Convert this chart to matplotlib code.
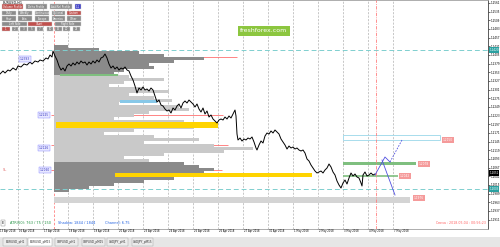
import numpy as np
import matplotlib.pyplot as plt
from matplotlib.patches import Rectangle

# EURUSD H1, x in bars, price on the right axis
bar_x = [0, 3, 5, 8, 10, 13, 16, 18, 21, 24, 27, 30, 32, 35, 38, 40, 43, 46, 48, 50,
         52, 53, 55, 57, 59, 61, 63, 65, 67, 69, 71, 73, 75, 77, 79, 81, 83, 85, 87, 89,
         91, 93, 95, 97, 99, 101, 103, 105, 107, 109, 111, 113, 115, 117, 119, 121, 123, 125, 127, 129,
         131, 133, 135, 137, 139, 141, 143, 145, 147, 149, 151, 153, 155, 157, 159, 161, 163, 165, 167, 169,
         171, 173, 175, 177, 179, 181, 183, 185, 187, 189, 191, 193, 195, 197, 199, 201, 203, 205, 207, 209,
         211, 213, 215, 217, 219, 221, 223, 225, 227, 229, 231, 233, 235, 236, 237, 238, 240, 242, 244, 246,
         248, 250, 252, 254, 256, 257, 259, 261, 263, 265, 267, 269, 271, 273, 275, 277, 279, 281, 283, 285,
         287, 289, 291, 293, 295, 297, 299, 301, 303, 305, 307, 309, 311, 313, 315, 317, 319, 321, 323, 325,
         327, 329, 331, 333, 335, 337, 339, 341, 343, 345, 347, 349, 351, 353, 355, 357, 359, 361, 362, 363,
         365, 367, 369, 371, 373, 375]
close = [1.2348, 1.2357, 1.2351, 1.2360, 1.2357, 1.2366, 1.2360, 1.2372, 1.2369, 1.2378, 1.2375, 1.2384, 1.2378, 1.2387, 1.2384, 1.2390, 1.2387, 1.2396, 1.2393, 1.2405,
         1.2399, 1.2417, 1.2402, 1.2390, 1.2372, 1.2360, 1.2366, 1.2357, 1.2372, 1.2378, 1.2372, 1.2381, 1.2375, 1.2384, 1.2378, 1.2387, 1.2381, 1.2384, 1.2375, 1.2384,
         1.2378, 1.2387, 1.2381, 1.2390, 1.2384, 1.2396, 1.2399, 1.2408, 1.2396, 1.2378, 1.2366, 1.2372, 1.2363, 1.2369, 1.2360, 1.2366, 1.2363, 1.2369, 1.2360, 1.2357,
         1.2342, 1.2330, 1.2312, 1.2291, 1.2306, 1.2300, 1.2309, 1.2300, 1.2303, 1.2297, 1.2306, 1.2300, 1.2282, 1.2264, 1.2270, 1.2255, 1.2252, 1.2243, 1.2237, 1.2240,
         1.2231, 1.2246, 1.2240, 1.2252, 1.2258, 1.2246, 1.2261, 1.2267, 1.2261, 1.2270, 1.2264, 1.2258, 1.2249, 1.2258, 1.2243, 1.2234, 1.2246, 1.2228, 1.2237, 1.2219,
         1.2225, 1.2213, 1.2207, 1.2201, 1.2210, 1.2213, 1.2210, 1.2219, 1.2213, 1.2222, 1.2216, 1.2228, 1.2240, 1.2222, 1.2168, 1.2150, 1.2156, 1.2147, 1.2153, 1.2150,
         1.2156, 1.2153, 1.2159, 1.2144, 1.2126, 1.2120, 1.2135, 1.2147, 1.2141, 1.2162, 1.2171, 1.2168, 1.2177, 1.2171, 1.2180, 1.2174, 1.2168, 1.2153, 1.2144, 1.2135,
         1.2123, 1.2132, 1.2126, 1.2129, 1.2123, 1.2126, 1.2120, 1.2117, 1.2120, 1.2111, 1.2093, 1.2087, 1.2075, 1.2066, 1.2057, 1.2051, 1.2054, 1.2057, 1.2051, 1.2060,
         1.2066, 1.2078, 1.2069, 1.2054, 1.2045, 1.2027, 1.2015, 1.2006, 1.2021, 1.2030, 1.2018, 1.2036, 1.2051, 1.2042, 1.2048, 1.2039, 1.2036, 1.2021, 1.2012, 1.2045,
         1.2054, 1.2042, 1.2045, 1.2051, 1.2045, 1.2048]

# volume profile (bars long), bins of 9 pips from the top level down
profile_top = 1.2435
profile_step = 0.0009
profile_start = 54
profile_vol = [14, 45, 85, 110, 150, 120, 95, 100, 70, 60,
               75, 110, 70, 55, 90, 115, 75, 100, 118, 65,
               125, 135, 95, 80, 60, 130, 164, 140, 80, 50,
               100, 145, 90, 160, 199, 170, 110, 70, 95,
               130, 145, 160, 150, 140, 120, 90, 60, 35, 15]
dark_top = 10      # first bins drawn dark
dark_bottom = 39   # bins from here drawn dark

# POC bars: (price low, price high, start bar, end bar)
poc_bars = [(1.2186, 1.2204, 56, 218), (1.2039, 1.2051, 115, 312)]

# levels and zones
teal_levels = [1.2420, 1.2003]
current_price = 1.2051
red_lines = [(1.2399, 54, 237), (1.2225, 51, 223), (1.2135, 51, 228), (1.2060, 51, 222)]
blue_tags = [(1.2393, 20, "1.2393"), (1.2225, 39, "1.2225"), (1.2126, 39, "1.2126"), (1.2060, 40, "1.2060")]
gray_band = (1.1961, 1.1979, 54, 410)
green_top = (1.2342, 1.2348, 60, 118)
blue_zone = (1.2261, 1.2270, 120, 157)
outline_zone = (1.2150, 1.2165, 343, 440)
green_zone = (1.2075, 1.2084, 343, 416)
green_line = (1.2042, 343, 398)
zone_tags = [(1.2150, 443, "1.2150"), (1.2078, 419, "1.2078"), (1.2042, 400, "1.2042"), (1.1976, 414, "1.1976")]
proj_x = [375, 385, 390]
proj_y = [1.2045, 1.2099, 1.2084]
proj_dash_x = [390, 402]
proj_dash_y = [1.2084, 1.2150]
proj_down_x = [382, 395]
proj_down_y = [1.2090, 1.1985]
now_bar = 376
anchor_bar = 54

grid_bars = [18 + 25 * k for k in range(16)]
date_labels = ["16 Apr 2018", "17 Apr 2018", "18 Apr 2018", "19 Apr 2018", "20 Apr 2018",
               "23 Apr 2018", "24 Apr 2018", "25 Apr 2018", "26 Apr 2018", "27 Apr 2018",
               "30 Apr 2018", "1 May 2018", "2 May 2018", "3 May 2018", "4 May 2018", "7 May 2018"]

price_ticks = [round(1.2561 - 0.0026 * k, 4) for k in range(26)]

fig = plt.figure(figsize=(5, 2.47), dpi=100)
ax = fig.add_axes([0, 1 - 229 / 247, 488 / 500, 229 / 247])
ax.set_xlim(0, 488)
ax.set_ylim(1.1883, 1.2570)

for g in grid_bars:
    ax.axvline(g, color="#b0b0b0", lw=0.5, ls=(0, (3, 2)), zorder=0)

ax.axvline(anchor_bar, color="#ff8080", lw=0.6, ls=(0, (3, 2)), zorder=0.5)

for lvl, x0, x1 in red_lines:
    ax.hlines(lvl, x0, x1, color="#ff7070", lw=0.6, zorder=1)

# volume profile
centers = profile_top - profile_step / 2 - profile_step * np.arange(len(profile_vol))
colors = ["#8a8a8a" if (i < dark_top or i >= dark_bottom) else "#c9c9c9" for i in range(len(profile_vol))]
ax.barh(centers, profile_vol, left=profile_start, height=profile_step * 0.92,
        color=colors, lw=0, zorder=2)

gl, gh, gx0, gx1 = gray_band
ax.barh((gl + gh) / 2, gx1 - gx0, left=gx0, height=gh - gl, color="#d4d4d4", lw=0, zorder=2)

for lo, hi, x0, x1 in poc_bars:
    ax.barh((lo + hi) / 2, x1 - x0, left=x0, height=hi - lo, color="#ffd400", lw=0, zorder=3)

lo, hi, x0, x1 = green_top
ax.barh((lo + hi) / 2, x1 - x0, left=x0, height=hi - lo, color="#7fbf7f", lw=0, zorder=3)
lo, hi, x0, x1 = blue_zone
ax.barh((lo + hi) / 2, x1 - x0, left=x0, height=hi - lo, color="#87c8e8", lw=0, zorder=3)
lo, hi, x0, x1 = outline_zone
ax.add_patch(Rectangle((x0, lo), x1 - x0, hi - lo, fill=False, ec="#a8dcec", lw=0.7, zorder=3))
lo, hi, x0, x1 = green_zone
ax.barh((lo + hi) / 2, x1 - x0, left=x0, height=hi - lo, color="#7fbf7f", lw=0, zorder=3)
lvl, x0, x1 = green_line
ax.hlines(lvl, x0, x1, color="#7fbf7f", lw=1.2, zorder=3)

for lvl in teal_levels:
    ax.axhline(lvl, color="#7fcfcf", lw=0.7, ls=(0, (5, 3)), zorder=4)

ax.plot(bar_x, close, color="black", lw=0.7, zorder=5)

ax.plot(proj_x, proj_y, color="#5050e0", lw=0.6, zorder=5)
ax.plot(proj_dash_x, proj_dash_y, color="#5050e0", lw=0.6, ls=(0, (2, 1.5)), zorder=5)
ax.plot(proj_down_x, proj_down_y, color="#5050e0", lw=0.6, zorder=5)

ax.axvline(now_bar, color="#ff8080", lw=0.6, ls=(0, (4, 1.5, 1, 1.5)), zorder=4)

for lvl, x, txt in blue_tags:
    ax.text(x, lvl, txt, fontsize=2.1, color="#3030c0", va="center", ha="left", zorder=6,
            bbox=dict(boxstyle="square,pad=0.25", fc="#e8e8ff", ec="#8080ff", lw=0.3))
for lvl, x, txt in zone_tags:
    ax.text(x, lvl, txt, fontsize=2.1, color="white", va="center", ha="left", zorder=6,
            bbox=dict(boxstyle="square,pad=0.3", fc="#f59a9a", ec="none"))
ax.text(3, 1.2060, "SL", fontsize=2.5, color="#e06060", va="center", zorder=6)

# right price axis
ax.yaxis.tick_right()
ax.set_yticks(price_ticks)
ax.set_yticklabels([f"{p:.4f}" for p in price_ticks], fontsize=2.0)
ax.tick_params(axis="y", length=1.2, width=0.4, pad=0.6)
ax.set_xticks([])
ax.spines["left"].set_visible(False)
ax.spines["top"].set_color("#a0a0a0")
ax.spines["bottom"].set_color("#a0a0a0")
ax.spines["right"].set_color("#404040")
for s in ax.spines.values():
    s.set_linewidth(0.6)

for lvl in teal_levels:
    ax.annotate(f"{lvl:.4f}", xy=(1.0, lvl), xycoords=("axes fraction", "data"), xytext=(1.0, 0),
                textcoords="offset points", fontsize=2.0, color="white", va="center",
                bbox=dict(boxstyle="square,pad=0.2", fc="#2aa0a0", ec="none"), zorder=7, annotation_clip=False)
ax.annotate(f"{current_price:.4f}", xy=(1.0, current_price), xycoords=("axes fraction", "data"), xytext=(1.0, 0),
            textcoords="offset points", fontsize=2.0, color="white", va="center",
            bbox=dict(boxstyle="square,pad=0.2", fc="black", ec="none"), zorder=7, annotation_clip=False)

# date labels under the axis
ax.text(0.5, 1.1883, "13 Apr 2018", fontsize=1.8, va="top", ha="left", clip_on=False)
for g, lab in zip(grid_bars, date_labels):
    ax.text(g + 1, 1.1883, lab, fontsize=1.8, va="top", ha="left", color="black", clip_on=False)
    ax.vlines(g, 1.1883, 1.1880, color="black", lw=0.3, clip_on=False)

# info line at the bottom of the chart
ax.text(10, 1.1902, "ATR(60): 763 / 75 / 150", fontsize=2.5, color="#209040", va="center")
ax.text(58, 1.1902, "Shadow: 1844 / 1844", fontsize=2.5, color="#2060e0", va="center")
ax.text(105, 1.1902, "Channel: 6.75", fontsize=2.5, color="#2060e0", va="center")
ax.text(436, 1.1902, "Свеча : 2018.05.04 : 00:56:23", fontsize=2.3, color="#ff6060", va="center")
ax.text(2, 1.1902, "E", fontsize=2.3, va="center",
        bbox=dict(boxstyle="square,pad=0.3", fc="white", ec="#808080", lw=0.3))

# chart title / watermark
fig.text(3 / 500, 1 - 2.5 / 247, "EURUSD,H1", fontsize=2.4, va="center", ha="left")
fig.text(264 / 500, 1 - 31 / 247, "freshforex.com", fontsize=4.5, color="white", ha="center", va="center",
         bbox=dict(boxstyle="square,pad=0.35", fc="#8cc63f", ec="none"))

# indicator button panel
def button(x0, y0, x1, y1, txt, fc):
    fig.patches.append(Rectangle((x0 / 500, 1 - y1 / 247), (x1 - x0) / 500, (y1 - y0) / 247,
                                 transform=fig.transFigure, fc=fc, ec="#d0d0d0", lw=0.3))
    fig.text((x0 + x1) / 1000, 1 - (y0 + y1) / 494, txt, fontsize=1.9, color="white",
             ha="center", va="center")

grey_btn = "#8c8c8c"
red_btn = "#c0504d"
button(2, 4, 23, 9.5, "Volume Profile", red_btn)
button(26, 4, 47, 9.5, "Delta Profile", grey_btn)
button(50, 4, 72, 9.5, "Add/Rel Profile", grey_btn)
button(75, 4, 81, 9.5, "1:1", "#4040c8")
row2 = ["Daily", "Weekly", "Continuous", "Optional", "Custom"]
row3 = ["Hour", "Asia", "Europe", "America", "Other"]
cols = [(2, 16), (18, 32), (35, 49), (52, 65), (67, 81)]
for i, (c0, c1) in enumerate(cols):
    button(c0, 11, c1, 15.5, row2[i], red_btn if i == 4 else grey_btn)
    button(c0, 16.5, c1, 21, row3[i], grey_btn)
button(2, 22, 27, 26.5, "Left Side", grey_btn)
button(28, 22, 52, 26.5, "Chart", red_btn)
button(55, 22, 81, 26.5, "Right Side", grey_btn)
small = ["1", "2", "3", "5", "7", "10", "15", "20", "25"]
sx = [(2, 10), (12, 18), (20, 27), (28, 35), (37, 43), (47, 53), (55, 62), (63, 70), (73, 80)]
for i, (c0, c1) in enumerate(sx):
    button(c0, 27.5, c1, 31.5, small[i], red_btn if i == 0 else grey_btn)

# bottom tab bar
fig.patches.append(Rectangle((0, 0), 1, 10 / 247, transform=fig.transFigure, fc="#e6e6e6", ec="none"))
tabs = ["EURUSD_pH1", "EURUSD_pM15", "GBPUSD_pH1", "GBPUSD_pM15", "USDJPY_pH1", "USDJPY_pM15"]
tx = [(3, 27), (28, 52), (55, 78), (82, 105), (107, 128), (132, 153)]
for i, (t0, t1) in enumerate(tx):
    fig.patches.append(Rectangle((t0 / 500, 1 / 247), (t1 - t0) / 500, 8 / 247, transform=fig.transFigure,
                                 fc="white" if i == 1 else "#ececec", ec="#a0a0a0", lw=0.3))
    fig.text((t0 + t1) / 1000, 5 / 247, tabs[i], fontsize=2.1, ha="center", va="center", color="#303030")

fig.savefig("out.png", dpi=100)
